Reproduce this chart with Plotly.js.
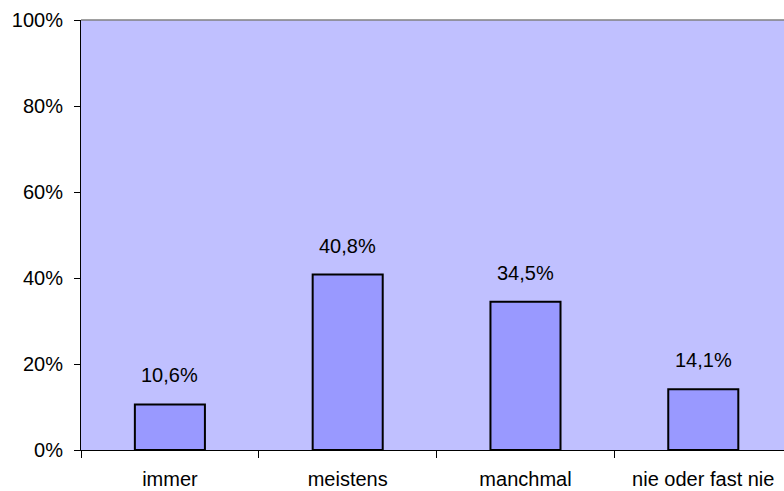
<!DOCTYPE html>
<html>
<head>
<meta charset="utf-8">
<script src="https://cdn.plot.ly/plotly-3.0.1.min.js"></script>
<style>
  html, body { margin: 0; padding: 0; background: #ffffff; }
  #chart { width: 784px; height: 491px; }
</style>
</head>
<body>
<div id="chart"></div>
<script>
// Antworthäufigkeiten je Kategorie (Anteile in Prozent)
const categories = ["immer", "meistens", "manchmal", "nie oder fast nie"];
const shares = [10.6, 40.8, 34.5, 14.1];
const yTickValues = [0, 20, 40, 60, 80, 100];
const yTickLabels = ["0%", "20%", "40%", "60%", "80%", "100%"];

const fontFamily = "Liberation Sans, Arial, sans-serif";

const fmt = v => v.toFixed(1).replace(".", ",") + "%";

const trace = {
  type: "bar",
  x: categories,
  y: shares,
  width: 0.394,
  marker: { color: "#9999FF", line: { color: "#000000", width: 2 } },
  hoverinfo: "skip"
};

// Wertebeschriftungen über den Säulen
const annotations = categories.map((c, i) => ({
  x: c,
  y: shares[i],
  xref: "x",
  yref: "y",
  text: fmt(shares[i]),
  showarrow: false,
  yanchor: "bottom",
  yshift: 16,
  font: { family: fontFamily, size: 20, color: "#000000" }
}));

const layout = {
  width: 784,
  height: 491,
  margin: { l: 81, r: 0, t: 20, b: 41, pad: 0 },
  paper_bgcolor: "#ffffff",
  plot_bgcolor: "#C0C0FF",
  showlegend: false,
  font: { family: fontFamily, size: 20, color: "#000000" },
  xaxis: {
    type: "category",
    range: [-0.5, 3.454],
    showline: true,
    linecolor: "#000000",
    linewidth: 1,
    ticks: "outside",
    tickson: "boundaries",
    ticklen: 7,
    tickcolor: "#000000",
    ticklabelstandoff: 11,
    showgrid: false,
    zeroline: false,
    fixedrange: true
  },
  yaxis: {
    range: [0, 100],
    tickvals: yTickValues,
    ticktext: yTickLabels,
    showline: true,
    linecolor: "#000000",
    linewidth: 1,
    ticks: "outside",
    ticklen: 6,
    tickcolor: "#000000",
    ticklabelstandoff: 7,
    showgrid: false,
    zeroline: false,
    fixedrange: true
  },
  shapes: [{
    type: "line",
    xref: "paper", yref: "paper",
    x0: 0, x1: 1, y0: 1, y1: 1,
    line: { color: "#808080", width: 1.5 }
  }],
  annotations: annotations
};

Plotly.newPlot("chart", [trace], layout, { displayModeBar: false, staticPlot: true });
</script>
</body>
</html>
